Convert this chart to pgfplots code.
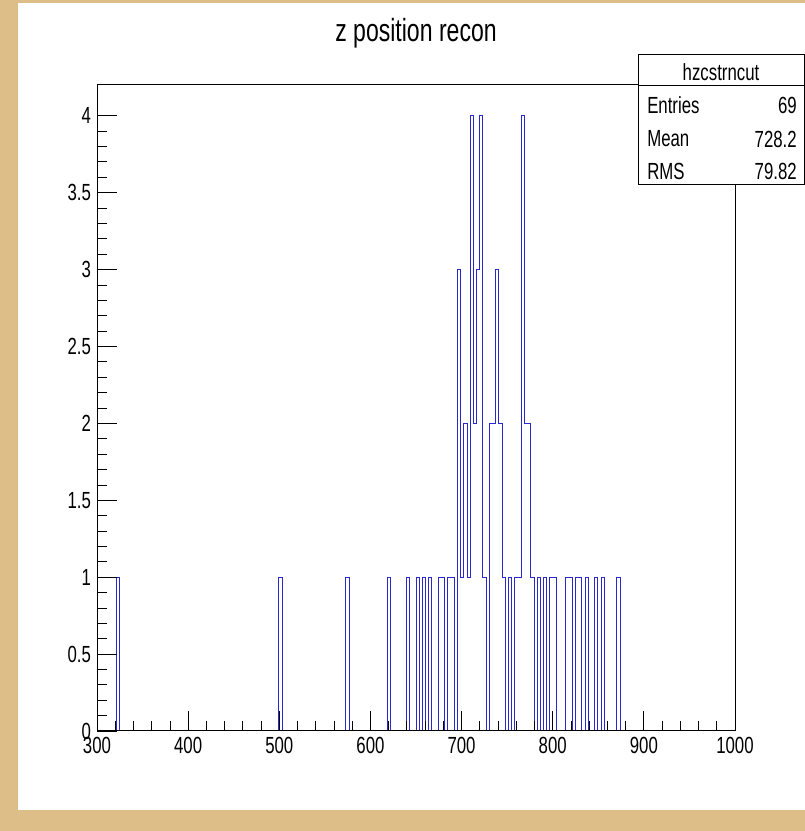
\documentclass[border=0pt]{standalone}
\usepackage{fontspec}
\setmainfont{Liberation Sans}[FakeStretch=0.72]
\usepackage{pgfplots}
\pgfplotsset{compat=1.18}
\definecolor{framebg}{RGB}{221,190,137}
\definecolor{histblue}{RGB}{40,40,205}
\begin{document}
\begin{tikzpicture}
\fill[framebg] (0,0) rectangle (603.75pt,623.25pt);
\fill[white] (13.5pt,15.75pt) rectangle (603.75pt,621pt);
\begin{axis}[
  at={(72.75pt,75pt)}, anchor=south west, scale only axis,
  width=478.5pt, height=484.5pt,
  xmin=300, xmax=1000, ymin=0, ymax=4.2,
  xtick={300,400,500,600,700,800,900,1000},
  ytick={0,0.5,1,1.5,2,2.5,3,3.5,4},
  minor x tick num=4, minor y tick num=4,
  tick align=inside, xtick pos=left, ytick pos=left,
  major tick length=15pt, minor tick length=7.5pt,
  every tick/.style={black, line width=0.6pt},
  axis line style={line width=0.75pt},
  axis on top,
  ticklabel style={font=\fontsize{17.5}{20}\selectfont},
  /pgf/number format/assume math mode=true,
  xticklabel style={/pgf/number format/1000 sep={}, yshift=-1pt},
  yticklabel style={xshift=-1pt},
]
\addplot[const plot mark left, histblue, line width=0.75pt] coordinates {
(300,0) (321,1) (324.5,0)
(499.5,1) (503,0)
(573,1) (576.5,0)
(618.5,1) (622,0)
(639.5,1) (643,0)
(650,1) (653.5,0)
(657,1) (660.5,0)
(664,1) (667.5,0)
(674.5,1) (678,1) (681.5,0)
(685,1) (688.5,1) (692,0)
(695.5,3) (699,1) (702.5,2) (706,1) (709.5,4) (713,2) (716.5,3) (720,4) (723.5,1) (727,0)
(730.5,2) (734,2) (737.5,3) (741,2) (744.5,1) (748,0)
(751.5,1) (755,0)
(758.5,1) (762,1) (765.5,4) (769,2) (772.5,2) (776,1) (779.5,0)
(783,1) (786.5,0)
(790,1) (793.5,0)
(797,1) (800.5,1) (804,0)
(814.5,1) (818,1) (821.5,0)
(825,1) (828.5,1) (832,0)
(835.5,1) (839,0)
(846,1) (849.5,0)
(853,1) (856.5,0)
(870.5,1) (874,0)
(1000,0)
};
\end{axis}
\node at (312pt,598.5pt) {\fontsize{24}{28}\selectfont z position recon};
\draw[line width=0.75pt, fill=white] (478.5pt,484.5pt) rectangle (603pt,582pt);
\draw[line width=0.75pt] (478.5pt,558.75pt) -- (603pt,558.75pt);
\begin{scope}[every node/.style={font=\fontsize{17.5}{20}\selectfont, inner sep=0pt}]
\node at (540.75pt,569.25pt) {hzcstrncut};
\node[anchor=west] at (485.25pt,544.5pt) {Entries};
\node[anchor=east] at (597.75pt,544.5pt) {69};
\node[anchor=west] at (485.25pt,519pt) {Mean};
\node[anchor=east] at (597.75pt,519pt) {728.2};
\node[anchor=west] at (485.25pt,495pt) {RMS};
\node[anchor=east] at (597.75pt,495pt) {79.82};
\end{scope}
\end{tikzpicture}
\end{document}
